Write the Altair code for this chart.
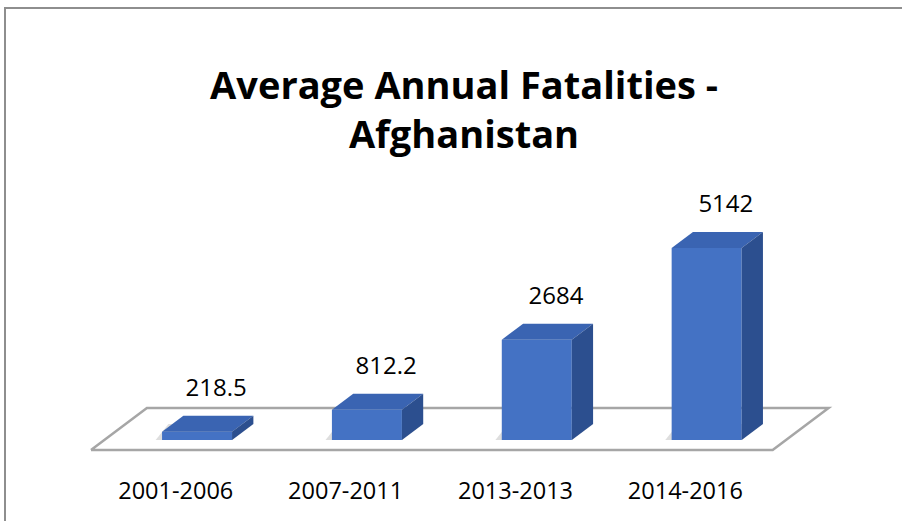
import altair as alt
import pandas as pd

# ---- data ----
categories = ["2001-2006", "2007-2011", "2013-2013", "2014-2016"]
values = [218.5, 812.2, 2684, 5142]
value_labels = ["218.5", "812.2", "2684", "5142"]
title_lines = ["Average Annual Fatalities -", "Afghanistan"]

# ---- layout / style constants ----
W, H = 902, 521
X_DOM = [-1.16, 4.15]        # category index scale
Y_DOM = [-2170, 11785]       # value scale
PX_X = W / (X_DOM[1] - X_DOM[0])
PX_Y = H / (Y_DOM[1] - Y_DOM[0])
DXu = 21.3 / PX_X            # 3D depth offset (x units)
DYu = 16.0 / PX_Y            # 3D depth offset (y units)
HW = 35.0 / PX_X             # half bar width
FLOOR_L, FLOOR_R = -0.546, 3.467
ZF, ZB = -0.625, 2.0

FRONT = "#4472C4"
TOP = "#3A64B2"
SIDE = "#2C4F8F"
FONT = "Open Sans"

idx = list(range(len(categories)))
bars = pd.DataFrame({"i": idx, "cat": categories, "v": values, "lab": value_labels})
bars["x1"] = bars.i - HW
bars["x2"] = bars.i + HW
bars["zero"] = 0.0
bars["lx"] = bars.i + DXu * 0.9
bars["ly"] = bars.v + DYu
bars["cx"] = bars.i - DXu

top_rows, side_rows, shadow_rows = [], [], []
for i, c, v in zip(idx, categories, values):
    top_rows.append({"cat": c, "y": v, "xa": i - HW, "xb": i + HW})
    top_rows.append({"cat": c, "y": v + DYu, "xa": i - HW + DXu, "xb": i + HW + DXu})
    side_rows.append({"cat": c, "x": i + HW, "ya": 0.0, "yb": v})
    side_rows.append({"cat": c, "x": i + HW + DXu, "ya": DYu, "yb": v + DYu})
    # soft floor shadow on the left of each bar
    shadow_rows.append({"cat": c, "y": 0.0, "xa": i - HW - 0.3 * DXu, "xb": i + HW})
    shadow_rows.append({"cat": c, "y": DYu, "xa": i - HW + 0.3 * DXu, "xb": i + HW + DXu})
top_df = pd.DataFrame(top_rows)
side_df = pd.DataFrame(side_rows)
shadow_df = pd.DataFrame(shadow_rows)

floor_df = pd.DataFrame({
    "o": [0, 1, 2, 3, 4],
    "x": [FLOOR_L + ZF * DXu, FLOOR_R + ZF * DXu, FLOOR_R + ZB * DXu, FLOOR_L + ZB * DXu, FLOOR_L + ZF * DXu],
    "y": [ZF * DYu, ZF * DYu, ZB * DYu, ZB * DYu, ZF * DYu],
})

xs = alt.Scale(domain=X_DOM, nice=False, zero=False)
ys = alt.Scale(domain=Y_DOM, nice=False, zero=False)
noax = None

floor = alt.Chart(floor_df).mark_line(color="#A6A6A6", strokeWidth=2.5).encode(
    x=alt.X("x:Q", scale=xs, axis=noax),
    y=alt.Y("y:Q", scale=ys, axis=noax),
    order="o:Q",
)

shadow = alt.Chart(shadow_df).mark_area(orient="horizontal", color="#C8C8C8", opacity=0.6).encode(
    y=alt.Y("y:Q", scale=ys, axis=noax),
    x=alt.X("xa:Q", scale=xs, axis=noax), x2="xb:Q",
    detail="cat:N",
)

front = alt.Chart(bars).mark_rect(color=FRONT).encode(
    x=alt.X("x1:Q", scale=xs, axis=noax), x2="x2:Q",
    y=alt.Y("zero:Q", scale=ys, axis=noax), y2="v:Q",
)

top = alt.Chart(top_df).mark_area(orient="horizontal", color=TOP).encode(
    y=alt.Y("y:Q", scale=ys, axis=noax),
    x=alt.X("xa:Q", scale=xs, axis=noax), x2="xb:Q",
    detail="cat:N",
)

side = alt.Chart(side_df).mark_area(orient="vertical", color=SIDE).encode(
    x=alt.X("x:Q", scale=xs, axis=noax),
    y=alt.Y("ya:Q", scale=ys, axis=noax), y2="yb:Q",
    detail="cat:N",
)

vlabels = alt.Chart(bars).mark_text(font=FONT, fontSize=24, dy=-27, color="#000000").encode(
    x=alt.X("lx:Q", scale=xs, axis=noax),
    y=alt.Y("ly:Q", scale=ys, axis=noax),
    text="lab:N",
)

clabels = alt.Chart(bars).mark_text(font=FONT, fontSize=23.5, color="#000000").encode(
    x=alt.X("cx:Q", scale=xs, axis=noax),
    y=alt.value(492),
    text="cat:N",
)

tdf = pd.DataFrame({"t": title_lines, "k": [0, 1]})
title1 = alt.Chart(tdf).transform_filter("datum.k == 0").mark_text(
    font=FONT, fontSize=38, fontWeight="bold", color="#000000").encode(
    x=alt.value(464), y=alt.value(88), text="t:N")
title2 = alt.Chart(tdf).transform_filter("datum.k == 1").mark_text(
    font=FONT, fontSize=38, fontWeight="bold", color="#000000").encode(
    x=alt.value(464), y=alt.value(137), text="t:N")

frame = alt.Chart(tdf).transform_filter("datum.k == 0").mark_rect(
    fill=None, stroke="#8E8E8E", strokeWidth=2).encode(
    x=alt.value(5), x2=alt.value(910), y=alt.value(8), y2=alt.value(540))

chart = alt.layer(frame, floor, shadow, front, top, side, vlabels, clabels, title1, title2).properties(
    width=W, height=H, padding=0, autosize="none", background="white",
).configure_view(stroke=None)

chart.save("out.html", embed_options={"renderer": "svg", "actions": False})
